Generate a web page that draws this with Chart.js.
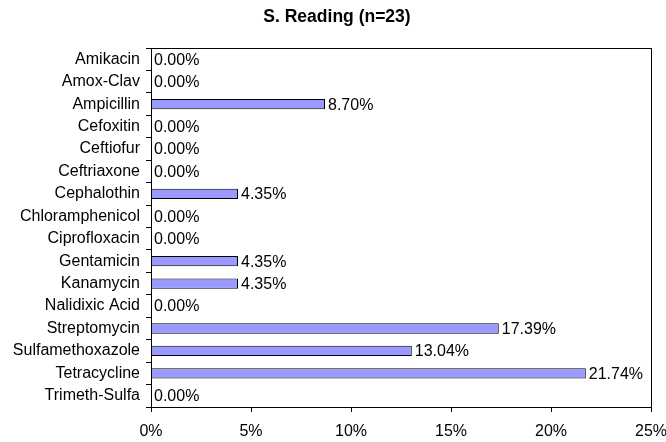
<!DOCTYPE html>
<html>
<head>
<meta charset="utf-8">
<script src="https://cdn.jsdelivr.net/npm/chart.js@4/dist/chart.umd.min.js"></script>
<style>
  body { margin: 0; background: #fff; }
  #wrap { width: 666px; height: 442px; }
</style>
</head>
<body>
<div id="wrap"><canvas id="resistChart"></canvas></div>
<script>
// drug names and percent resistant
const drugs = ['Amikacin', 'Amox-Clav', 'Ampicillin', 'Cefoxitin', 'Ceftiofur', 'Ceftriaxone',
  'Cephalothin', 'Chloramphenicol', 'Ciprofloxacin', 'Gentamicin', 'Kanamycin',
  'Nalidixic Acid', 'Streptomycin', 'Sulfamethoxazole', 'Tetracycline', 'Trimeth-Sulfa']
const resistant = [0, 0, 8.70, 0, 0, 0, 4.35, 0, 0, 4.35, 4.35, 0, 17.39, 13.04, 21.74, 0]
const xTicks = [0, 5, 10, 15, 20, 25]
const chartTitle = 'S. Reading (n=23)'

Chart.defaults.font.family = '"Liberation Sans", Arial, sans-serif'
Chart.defaults.color = '#000'

// title, value labels at end of bars, frame round plot area
const barLabels = {
  id: 'barLabels',
  afterDatasetsDraw(chart) {
    const ctx = chart.ctx
    const meta = chart.getDatasetMeta(0)
    ctx.save()
    ctx.fillStyle = '#000'
    ctx.textBaseline = 'middle'

    ctx.font = 'bold 17.5px "Liberation Sans", Arial, sans-serif'
    ctx.textAlign = 'center'
    ctx.fillText(chartTitle, 337, 17)

    ctx.font = '16px "Liberation Sans", Arial, sans-serif'
    ctx.textAlign = 'left'
    meta.data.forEach((bar, i) => {
      ctx.fillText(resistant[i].toFixed(2) + '%', bar.x + 3, bar.y + 1)
    })
    const a = chart.chartArea
    ctx.strokeStyle = '#000'
    ctx.lineWidth = 1
    ctx.strokeRect(Math.round(a.left) + 0.5, Math.round(a.top) + 0.5, Math.round(a.right - a.left), Math.round(a.bottom - a.top))
    ctx.restore()
  }
}

let resistChart = new Chart(document.getElementById('resistChart').getContext('2d'), {
  type: 'bar',
  data: {
    labels: drugs,
    datasets: [{
      label: 'S. Reading',
      data: resistant,
      backgroundColor: '#9999FF',
      borderColor: '#000',
      borderWidth: 1,
      borderSkipped: 'start',
      categoryPercentage: 1,
      barPercentage: 0.46
    }]
  },
  options: {
    indexAxis: 'y',
    responsive: true,
    maintainAspectRatio: false,
    animation: false,
    layout: { padding: { left: 0, right: 15, top: 48, bottom: 0 } },
    plugins: {
      legend: { display: false },
      tooltip: { enabled: false },
      title: { display: false }
    },
    scales: {
      x: {
        min: 0,
        max: 25,
        afterFit(scale) {
          scale.height = 35
          scale.paddingLeft = 0
          scale.paddingRight = 0
        },
        afterBuildTicks(scale) { scale.ticks = xTicks.map(v => ({ value: v })) },
        ticks: {
          font: { size: 16 },
          padding: 10,
          maxRotation: 0,
          callback: v => v + '%'
        },
        grid: { drawOnChartArea: false, tickLength: 5, color: '#000' },
        border: { color: '#000' }
      },
      y: {
        afterFit(scale) {
          scale.width = 151
          scale.paddingTop = 0
          scale.paddingBottom = 0
        },
        ticks: { font: { size: 16 }, padding: 6, autoSkip: false },
        grid: { drawOnChartArea: false, tickLength: 5, color: '#000', offset: true },
        border: { color: '#000' }
      }
    }
  },
  plugins: [barLabels]
})
</script>
</body>
</html>
